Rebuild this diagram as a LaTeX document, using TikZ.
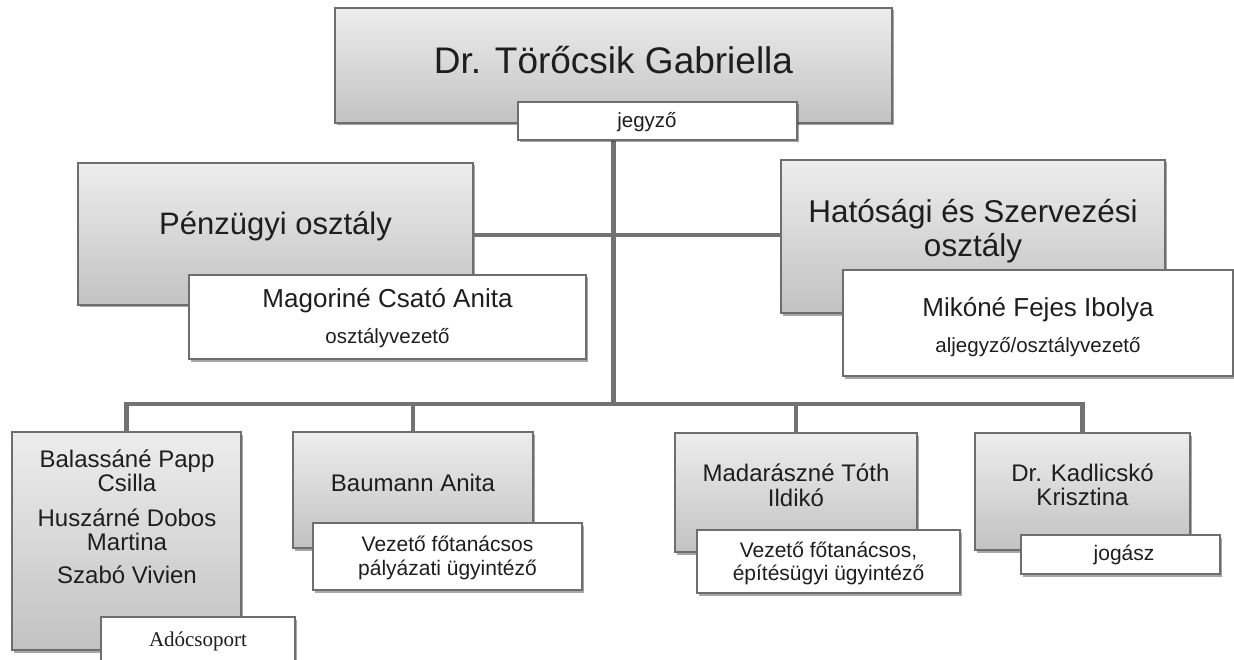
\documentclass[tikz,border=0pt]{standalone}
\usepackage{fontspec}
\setmainfont{Liberation Sans}
\newfontfamily\serifrm{Liberation Serif}
\usetikzlibrary{shadows}
\definecolor{gtop}{HTML}{EDEDED}
\definecolor{gbot}{HTML}{C2C2C2}
\definecolor{bord}{HTML}{6E6E6E}
\definecolor{conn}{HTML}{727272}
\definecolor{ink}{HTML}{1E1E1E}
\newcommand{\fsz}[2]{\fontsize{#1pt}{#2pt}\selectfont}
\begin{document}
\begin{tikzpicture}[x=1pt,y=-1pt,
  boxbase/.style={draw=bord, line width=1.1pt, anchor=north west, inner sep=0pt, outer sep=0pt,
     drop shadow={shadow xshift=2pt, shadow yshift=-2.5pt, opacity=0.35, fill=black}},
  graybox/.style={boxbase, top color=gtop, bottom color=gbot},
  whitebox/.style={boxbase, fill=white},
  txt/.style={inner sep=0pt, text=ink, align=center},
  conline/.style={draw=conn, line width=4.5pt},
  ]
\clip (0,0) rectangle (1234,660);
\fill[white] (0,0) rectangle (1234,660);

% boxes (gray)
\node[graybox, minimum width=557pt, minimum height=115pt] (top) at (335,8) {};
\node[graybox, minimum width=395pt, minimum height=142pt] (pen) at (78,163) {};
\node[graybox, minimum width=384pt, minimum height=153pt] (hat) at (781,160) {};
\coordinate (bus) at (613.5,404);
\coordinate (bar) at (613.5,235);

% connectors
\draw[conline] (top.south) -- (bus);
\draw[conline] (pen.east |- bar) -- (hat.west |- bar);

\node[graybox, minimum width=229pt, minimum height=218pt] (bal) at (12,432) {};
\node[graybox, minimum width=240pt, minimum height=116pt] (bau) at (293,432) {};
\node[graybox, minimum width=242pt, minimum height=119pt] (mad) at (675,433) {};
\node[graybox, minimum width=215pt, minimum height=117pt] (kad) at (975,433) {};

\draw[conline, line join=miter] (bal.north) -- (bal.north |- bus) -- (kad.north |- bus) -- (kad.north);
\draw[conline] (bau.north |- bus) -- (bau.north);
\draw[conline] (mad.north |- bus) -- (mad.north);

% white title boxes
\node[whitebox, minimum width=279pt, minimum height=38pt] (jeg) at (518,102) {};
\node[whitebox, minimum width=397pt, minimum height=84pt] (mag) at (189,275) {};
\node[whitebox, minimum width=390pt, minimum height=106pt] (mik) at (843,270) {};
\node[whitebox, minimum width=194pt, minimum height=55pt] (ado) at (101,617) {};
\node[whitebox, minimum width=269pt, minimum height=67pt] (vez1) at (313,523) {};
\node[whitebox, minimum width=263pt, minimum height=63pt] (vez2) at (697,530) {};
\node[whitebox, minimum width=199pt, minimum height=39pt] (jog) at (1021,535) {};

% texts
\node[txt, font=\fsz{37}{42}] (ttop) at (613.5,60) {Dr. Törőcsik Gabriella};
\node[txt, font=\fsz{20.5}{24}] (tjeg) at (647,122) {jegyző};
\node[txt, font=\fsz{31}{35}] (tpen) at (275.5,226) {Pénzügyi osztály};
\node[txt, font=\fsz{26}{30}] (tmag1) at (387.5,301) {Magoriné Csató Anita};
\node[txt, font=\fsz{20.5}{24}] (tmag2) at (387.5,338) {osztályvezető};
\node[txt, font=\fsz{31.5}{34}] (that) at (973,231) {Hatósági és Szervezési\\osztály};
\node[txt, font=\fsz{26}{30}] (tmik1) at (1038,310) {Mikóné Fejes Ibolya};
\node[txt, font=\fsz{20.5}{24}] (tmik2) at (1038,347) {aljegyző/osztályvezető};
\node[txt, font=\fsz{24}{24.5}] (tbal1) at (127,471) {Balassáné Papp\\Csilla};
\node[txt, font=\fsz{24}{24.5}] (tbal2) at (127,530) {Huszárné Dobos\\Martina};
\node[txt, font=\fsz{24}{24.5}] (tbal3) at (127,575) {Szabó Vivien};
\node[txt, font={\serifrm\fsz{21}{24}}] (tado) at (198,641) {Adócsoport};
\node[txt, font=\fsz{24}{25}] (tbau) at (413,483) {Baumann Anita};
\node[txt, font=\fsz{21}{24}] (tvez1) at (447.5,558) {Vezető főtanácsos\\pályázati ügyintéző};
\node[txt, font=\fsz{24}{25}] (tmad) at (796,485) {Madarászné Tóth\\Ildikó};
\node[txt, font=\fsz{21}{23}] (tvez2) at (828.5,563) {Vezető főtanácsos,\\építésügyi ügyintéző};
\node[txt, font=\fsz{24}{24.5}] (tkad) at (1082.5,485) {Dr. Kadlicskó\\Krisztina};
\node[txt, font=\fsz{21}{24}] (tjog) at (1124,555) {jogász};
\end{tikzpicture}
\end{document}
